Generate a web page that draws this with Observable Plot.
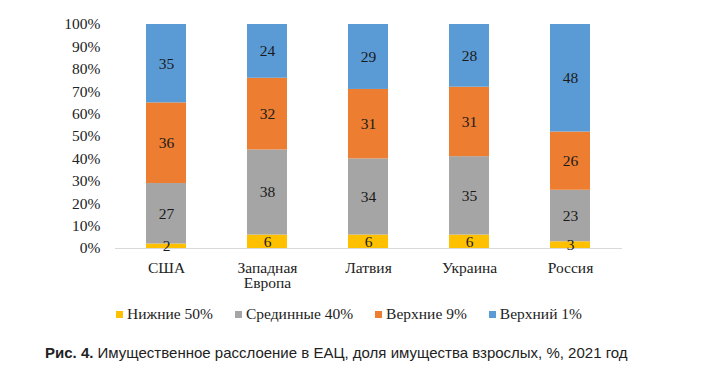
<!DOCTYPE html>
<html><head><meta charset="utf-8">
<script src="https://cdn.jsdelivr.net/npm/d3@7"></script>
<script src="https://cdn.jsdelivr.net/npm/@observablehq/plot@0.6"></script>
<style>
body{margin:0;background:#fff;width:707px;height:381px;overflow:hidden;}
#wrap{position:relative;width:707px;height:381px;}
#chart{position:absolute;left:0;top:0;}
#chart svg, #chart svg text{font-family:"Liberation Serif","Times New Roman","DejaVu Serif",serif !important;}
#legend{position:absolute;left:0;top:305px;width:707px;display:flex;justify-content:flex-start;padding-left:116px;box-sizing:border-box;font-family:"Liberation Serif","Times New Roman","DejaVu Serif",serif;font-size:15.5px;color:#222;}
#legend .item{display:flex;align-items:center;margin-right:22px;}
#legend .sw{width:7px;height:7px;margin-right:4px;}
#caption{position:absolute;left:45px;top:344px;font-family:"Liberation Sans",Arial,sans-serif;font-size:15px;color:#222;white-space:nowrap;}
</style></head>
<body><div id="wrap"><div id="chart"></div><div id="legend"></div><div id="caption"><b>Рис. 4.</b> Имущественное расслоение в ЕАЦ, доля имущества взрослых, %, 2021 год</div></div>
<script>
const categories = ["США", "Западная\nЕвропа", "Латвия", "Украина", "Россия"];
const seriesNames = ["Нижние 50%", "Срединные 40%", "Верхние 9%", "Верхний 1%"];
const bottom50 = [2, 6, 6, 6, 3];
const middle40 = [27, 38, 34, 35, 23];
const upper9 = [36, 32, 31, 31, 26];
const top1 = [35, 24, 29, 28, 48];
const yTicks = [0, 10, 20, 30, 40, 50, 60, 70, 80, 90, 100];
const colors = ["#FFC000", "#A5A5A5", "#ED7D31", "#5B9BD5"];

const seriesValues = [bottom50, middle40, upper9, top1];
const data = [];
seriesNames.forEach((s, i) => categories.forEach((c, j) => data.push({category: c, series: s, value: seriesValues[i][j]})));

const plot = Plot.plot({
  width: 707,
  height: 300,
  marginTop: 24,
  marginBottom: 52,
  marginLeft: 115,
  marginRight: 85,
  style: {fontSize: "15.5px", color: "#222", background: "#fff"},
  x: {domain: categories, paddingInner: 0.6, paddingOuter: 0.3, label: null, tickSize: 0, tickPadding: 13},
  y: {domain: [0, 100], ticks: yTicks, tickFormat: d => d + "%", label: null, tickSize: 0, tickPadding: 15},
  color: {domain: seriesNames, range: colors},
  marks: [
    Plot.barY(data, Plot.stackY({x: "category", y: "value", fill: "series", order: seriesNames})),
    Plot.ruleY([0], {stroke: "#d9d9d9", strokeWidth: 1}),
    Plot.text(data, Plot.stackY({x: "category", y: "value", z: "series", order: seriesNames, text: d => String(d.value), fill: "#1a1a1a"}))
  ]
});
document.getElementById("chart").appendChild(plot);

const legend = document.getElementById("legend");
seriesNames.forEach((s, i) => {
  const it = document.createElement("div");
  it.className = "item";
  it.innerHTML = `<span class="sw" style="background:${colors[i]}"></span><span>${s}</span>`;
  legend.appendChild(it);
});
</script></body></html>
